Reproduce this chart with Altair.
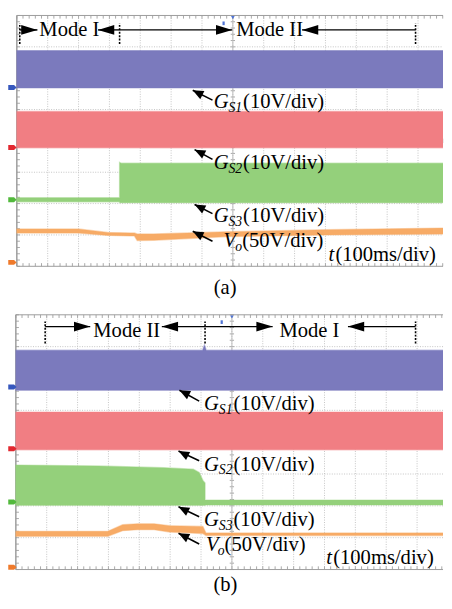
import altair as alt
import pandas as pd

FONT = "Liberation Serif"
MS_PER_DIV = 100          # t (100ms/div)
GATE_V_PER_DIV = 10.0     # G_S (10V/div)
VO_V_PER_DIV = 50.0       # V_o (50V/div)

channels = ["GS1", "GS2", "GS3", "Vo"]
band_colors = ["#7b7abd", "#f17e83", "#94d07b", "#f7ab66"]
tab_colors = ["#3657bd", "#e2272f", "#52b93c", "#ef7a2b"]
v_per_div = [GATE_V_PER_DIV, GATE_V_PER_DIV, GATE_V_PER_DIV, VO_V_PER_DIV]

GRID_X_DIV = [1, 2, 3, 4, 5, 6, 7, 8, 9, 10, 11, 12, 13]
GRID_Y_DIV = [1, 2, 3, 4, 5, 6, 7]

# ---------------- panel (a): Mode I -> Mode II ----------------
a_offsets = [5.70, 3.79, 2.125, 0.125]          # trace ground markers (div)
a_gs1_t = [0, 1381]
a_gs1_lo = [-0.1, -0.1]
a_gs1_hi = [11.8, 11.8]
a_gs2_t = [0, 1381]
a_gs2_lo = [-0.1, -0.1]
a_gs2_hi = [11.5, 11.5]
a_gs3_t = [0, 333, 333, 338, 1381]
a_gs3_lo = [-0.65, -0.65, -0.95, -0.95, -0.95]
a_gs3_hi = [0.65, 0.65, 11.9, 11.6, 11.6]
a_vo_t = [0, 200, 295, 368, 381, 390, 444, 686, 1003, 1381]
a_vo_lo = [46.8, 46.8, 43.0, 42.2, 42.2, 34.8, 35.2, 41.1, 43.8, 45.3]
a_vo_hi = [53.3, 53.3, 47.7, 46.9, 46.9, 45.3, 45.3, 48.9, 52.0, 54.7]

a_mode_names = ["Mode I", "Mode II"]
a_mode_text_t = [73, 711]
a_mode_text_v = 7.33
a_mode_dotted_t = [9.5, 333, 1292]
a_mode_arrow_v = 7.54
a_mode_seg_t0 = [9.5, 263, 333, 924]
a_mode_seg_t1 = [66.7, 333, 698, 1292]
a_mode_right_tips = [66.7, 698]
a_mode_left_tips = [263, 924]
a_lab_head_t = [570, 576, 576, 570]
a_lab_head_v = [5.615, 3.72, 1.97, 1.116]
a_lab_tail_t = [634, 634, 634, 634]
a_lab_tail_v = [5.30, 3.41, 1.68, 0.80]
a_gate_text_t = [638, 638, 638]
a_gate_text_v = [5.05, 3.115, 1.406]
a_vo_text = (670, 0.616)
a_time_text = (1010, 0.156)
a_caption = ("(a)", 675, -0.89)
a_trig = (670, 7.75)

# ---------------- panel (b): Mode II -> Mode I ----------------
b_offsets = [5.73, 3.79, 2.12, 0.07]
b_gs1_t = [0, 605, 611, 617, 1384]
b_gs1_lo = [-1.0, -1.0, -1.0, -1.0, -1.0]
b_gs1_hi = [11.6, 11.6, 13.2, 11.6, 11.6]
b_gs2_t = [0, 1384]
b_gs2_lo = [-0.27, -0.27]
b_gs2_hi = [11.55, 11.55]
b_gs3_t = [0, 267, 479, 575, 594, 606, 613, 613, 1384]
b_gs3_lo = [-1.0, -1.0, -1.0, -1.0, -1.0, -1.0, -1.0, -0.9, -0.9]
b_gs3_hi = [11.6, 11.3, 10.8, 10.3, 9.3, 6.8, 6.0, 0.6, 0.6]
b_vo_t = [0, 298, 346, 394, 448, 498, 606, 616, 1384]
b_vo_lo = [48.8, 48.8, 57.6, 59.1, 59.1, 55.4, 53.0, 49.9, 49.9]
b_vo_hi = [56.5, 56.5, 66.8, 68.3, 68.3, 65.3, 64.2, 53.9, 53.9]

b_mode_names = ["Mode II", "Mode I"]
b_mode_text_t = [251, 854]
b_mode_text_v = 7.29
b_mode_dotted_t = [95, 613, 1295]
b_mode_arrow_v = 7.63
b_mode_seg_t0 = [95, 473, 613, 1076]
b_mode_seg_t1 = [241, 613, 832, 1295]
b_mode_right_tips = [241, 832]
b_mode_left_tips = [473, 1076]
b_lab_head_t = [530, 527, 527, 527]
b_lab_head_v = [5.63, 3.72, 1.97, 1.14]
b_lab_tail_t = [594, 594, 594, 594]
b_lab_tail_v = [5.29, 3.415, 1.66, 0.80]
b_gate_text_t = [610, 610, 610]
b_gate_text_v = [5.015, 3.11, 1.354]
b_vo_text = (616, 0.585)
b_time_text = (1006, 0.185)
b_caption = ("(b)", 679, -0.68)
b_trig = (667, 7.77)

gate_subs = ["S1", "S2", "S3"]
gate_unit = "(10V/div)"
vo_unit = "(50V/div)"
time_unit = "(100ms/div)"

PANELS = [
    dict(t_min=-28.6, t_max=1381, v_min=-1.296875, v_max=8.015625, height=298, t_end=1381,
         offsets=a_offsets, dotted_v=(7.09, 7.75),
         traces=[(a_gs1_t, a_gs1_lo, a_gs1_hi), (a_gs2_t, a_gs2_lo, a_gs2_hi),
                 (a_gs3_t, a_gs3_lo, a_gs3_hi), (a_vo_t, a_vo_lo, a_vo_hi)],
         mode_names=a_mode_names, mode_text_t=a_mode_text_t, mode_text_v=a_mode_text_v,
         dotted_t=a_mode_dotted_t, arrow_v=a_mode_arrow_v, seg_t0=a_mode_seg_t0,
         seg_t1=a_mode_seg_t1, right_tips=a_mode_right_tips, left_tips=a_mode_left_tips,
         head_t=a_lab_head_t, head_v=a_lab_head_v, tail_t=a_lab_tail_t, tail_v=a_lab_tail_v,
         gate_t=a_gate_text_t, gate_v=a_gate_text_v, vo_text=a_vo_text, time_text=a_time_text,
         caption=a_caption, trig=a_trig, tab_t=-14.3),
    dict(t_min=-25.4, t_max=1384, v_min=-0.83077, v_max=8.24615, height=295, t_end=1384,
         offsets=b_offsets, dotted_v=(7.10, 7.79),
         traces=[(b_gs1_t, b_gs1_lo, b_gs1_hi), (b_gs2_t, b_gs2_lo, b_gs2_hi),
                 (b_gs3_t, b_gs3_lo, b_gs3_hi), (b_vo_t, b_vo_lo, b_vo_hi)],
         mode_names=b_mode_names, mode_text_t=b_mode_text_t, mode_text_v=b_mode_text_v,
         dotted_t=b_mode_dotted_t, arrow_v=b_mode_arrow_v, seg_t0=b_mode_seg_t0,
         seg_t1=b_mode_seg_t1, right_tips=b_mode_right_tips, left_tips=b_mode_left_tips,
         head_t=b_lab_head_t, head_v=b_lab_head_v, tail_t=b_lab_tail_t, tail_v=b_lab_tail_v,
         gate_t=b_gate_text_t, gate_v=b_gate_text_v, vo_text=b_vo_text, time_text=b_time_text,
         caption=b_caption, trig=b_trig, tab_t=-11.1),
]

RIGHT_HEAD = "M0,0L-1,-0.3L-1,0.3Z"
LEFT_HEAD = "M0,0L1,-0.3L1,0.3Z"
SMALL_HEAD = "M0,0L-1,-0.42L-1,0.42Z"
TAB = "M-1,-0.6L0.4,-0.6L1,0L0.4,0.6L-1,0.6Z"


def build_panel(P):
    xs = alt.Scale(domain=[P["t_min"], P["t_max"]], nice=False, zero=False)
    ys = alt.Scale(domain=[P["v_min"], P["v_max"]], nice=False, zero=False)

    def X(f):
        return alt.X(f, type="quantitative", scale=xs, axis=None)

    def Y(f):
        return alt.Y(f, type="quantitative", scale=ys, axis=None)

    t_end = P["t_end"]
    layers = []

    # graticule
    gv = pd.DataFrame({"t": [d * MS_PER_DIV for d in GRID_X_DIV], "v0": 0.0, "v1": 8.0})
    layers.append(alt.Chart(gv).mark_rule(color="#c4c4c4", strokeDash=[1, 1.5], strokeWidth=1)
                  .encode(x=X("t"), y=Y("v0"), y2=alt.Y2("v1")))
    gh = pd.DataFrame({"v": GRID_Y_DIV, "t0": 0.0, "t1": float(t_end)})
    layers.append(alt.Chart(gh).mark_rule(color="#c4c4c4", strokeDash=[1, 1.5], strokeWidth=1)
                  .encode(x=X("t0"), x2=alt.X2("t1"), y=Y("v")))
    # minor ticks on borders and centre lines
    rows = []
    k = 0
    while k * 20 <= t_end:
        tt = k * 20
        rows.append((tt, 0.0, 0.1))
        rows.append((tt, 7.9, 8.0))
        rows.append((tt, 3.93, 4.07))
        k += 1
    mt = pd.DataFrame(rows, columns=["t", "v0", "v1"])
    layers.append(alt.Chart(mt).mark_rule(color="#a8a8a8", strokeWidth=1)
                  .encode(x=X("t"), y=Y("v0"), y2=alt.Y2("v1")))
    rows = []
    for j in range(0, 41):
        vv = j * 0.2
        rows.append((0.0, 10.0, vv))
        rows.append((693.0, 707.0, vv))
    mh = pd.DataFrame(rows, columns=["t0", "t1", "v"])
    layers.append(alt.Chart(mh).mark_rule(color="#a8a8a8", strokeWidth=1)
                  .encode(x=X("t0"), x2=alt.X2("t1"), y=Y("v")))
    # centre line
    cl = pd.DataFrame({"t": [700.0], "v0": [0.0], "v1": [8.0]})
    layers.append(alt.Chart(cl).mark_rule(color="#bcbcbc", strokeWidth=1)
                  .encode(x=X("t"), y=Y("v0"), y2=alt.Y2("v1")))
    # frame
    fr_v = pd.DataFrame({"t": [0.0], "v0": [0.0], "v1": [8.0]})
    layers.append(alt.Chart(fr_v).mark_rule(color="#9c9c9c", strokeWidth=1.5)
                  .encode(x=X("t"), y=Y("v0"), y2=alt.Y2("v1")))
    fr_h = pd.DataFrame({"v": [0.0, 8.0], "t0": 0.0, "t1": float(t_end)})
    layers.append(alt.Chart(fr_h).mark_rule(color="#9c9c9c", strokeWidth=1)
                  .encode(x=X("t0"), x2=alt.X2("t1"), y=Y("v")))

    # traces (envelopes), one area layer per channel, with a soft fringe
    for ch, col, off, vpd, (ts, lo, hi) in zip(channels, band_colors, P["offsets"], v_per_div, P["traces"]):
        df = pd.DataFrame({
            "t": [float(x) for x in ts],
            "lo": [off + l / vpd for l in lo],
            "hi": [off + h / vpd for h in hi],
        })
        layers.append(alt.Chart(df).mark_area(color=col, opacity=1, interpolate="linear", clip=True,
                                              stroke=col, strokeWidth=1.4, strokeOpacity=0.45)
                      .encode(x=X("t"), y=Y("hi"), y2=alt.Y2("lo")))

    # channel ground markers
    for col, off in zip(tab_colors, P["offsets"]):
        tb = pd.DataFrame({"t": [P["tab_t"]], "v": [off]})
        layers.append(alt.Chart(tb).mark_point(shape=TAB, size=72, filled=True, color=col,
                                               opacity=1, strokeWidth=0)
                      .encode(x=X("t"), y=Y("v")))
    # trigger markers
    tg = pd.DataFrame({"t": [P["trig"][0]], "v": [P["trig"][1]]})
    layers.append(alt.Chart(tg).mark_point(shape="M-0.6,-1L0.6,-1L0.6,1L-0.6,1Z", size=14, filled=True,
                                           color="#4f74d6", opacity=1, strokeWidth=0)
                  .encode(x=X("t"), y=Y("v")))
    tg2 = pd.DataFrame({"t": [700.0], "v": [7.93]})
    layers.append(alt.Chart(tg2).mark_point(shape="triangle-down", size=14, filled=True,
                                            color="#4f74d6", opacity=1, strokeWidth=0)
                  .encode(x=X("t"), y=Y("v")))

    # mode boundaries and arrows
    dv0, dv1 = P["dotted_v"]
    dl = pd.DataFrame({"t": P["dotted_t"], "v0": dv0, "v1": dv1})
    layers.append(alt.Chart(dl).mark_rule(color="black", strokeDash=[2, 1.5], strokeWidth=1.6)
                  .encode(x=X("t"), y=Y("v0"), y2=alt.Y2("v1")))
    sg = pd.DataFrame({"t0": P["seg_t0"], "t1": P["seg_t1"], "v": P["arrow_v"]})
    layers.append(alt.Chart(sg).mark_rule(color="black", strokeWidth=1.4)
                  .encode(x=X("t0"), x2=alt.X2("t1"), y=Y("v")))
    rt = pd.DataFrame({"t": P["right_tips"], "v": P["arrow_v"]})
    layers.append(alt.Chart(rt).mark_point(shape=RIGHT_HEAD, size=1100, filled=True, color="black",
                                           opacity=1, strokeWidth=0)
                  .encode(x=X("t"), y=Y("v")))
    lt = pd.DataFrame({"t": P["left_tips"], "v": P["arrow_v"]})
    layers.append(alt.Chart(lt).mark_point(shape=LEFT_HEAD, size=1100, filled=True, color="black",
                                           opacity=1, strokeWidth=0)
                  .encode(x=X("t"), y=Y("v")))

    # label pointers
    la = pd.DataFrame({"t0": P["head_t"], "v0": P["head_v"], "t1": P["tail_t"], "v1": P["tail_v"]})
    layers.append(alt.Chart(la).mark_rule(color="black", strokeWidth=1.6)
                  .encode(x=X("t0"), y=Y("v0"), x2=alt.X2("t1"), y2=alt.Y2("v1")))
    layers.append(alt.Chart(la).mark_point(shape=SMALL_HEAD, size=484, angle=207, filled=True,
                                           color="black", opacity=1, strokeWidth=0)
                  .encode(x=X("t0"), y=Y("v0")))

    # texts
    def txt(df, **kw):
        base = dict(font=FONT, fontSize=21, baseline="alphabetic", color="black", align="left")
        base.update(kw)
        return alt.Chart(df).mark_text(**base).encode(x=X("t"), y=Y("v"), text="s:N")

    md = pd.DataFrame({"t": P["mode_text_t"], "v": P["mode_text_v"], "s": P["mode_names"]})
    layers.append(txt(md))
    g_main = pd.DataFrame({"t": P["gate_t"], "v": P["gate_v"], "s": ["G", "G", "G"]})
    layers.append(txt(g_main, fontStyle="italic"))
    g_sub = pd.DataFrame({"t": P["gate_t"], "v": P["gate_v"], "s": gate_subs})
    layers.append(txt(g_sub, fontStyle="italic", fontSize=14, dx=15, dy=4))
    g_unit = pd.DataFrame({"t": P["gate_t"], "v": P["gate_v"], "s": [gate_unit] * 3})
    layers.append(txt(g_unit, dx=30))
    vt, vv = P["vo_text"]
    layers.append(txt(pd.DataFrame({"t": [vt], "v": [vv], "s": ["V"]}), fontStyle="italic"))
    layers.append(txt(pd.DataFrame({"t": [vt], "v": [vv], "s": ["o"]}), fontStyle="italic",
                      fontSize=14, dx=12, dy=4))
    layers.append(txt(pd.DataFrame({"t": [vt], "v": [vv], "s": [vo_unit]}), dx=19))
    tt_, tv_ = P["time_text"]
    layers.append(txt(pd.DataFrame({"t": [tt_], "v": [tv_], "s": ["t"]}), fontStyle="italic"))
    layers.append(txt(pd.DataFrame({"t": [tt_], "v": [tv_], "s": [time_unit]}), dx=7))
    cs, ct, cv = P["caption"]
    layers.append(txt(pd.DataFrame({"t": [ct], "v": [cv], "s": [cs]}), align="center"))

    return alt.layer(*layers).properties(width=444, height=P["height"])


chart = alt.vconcat(*[build_panel(P) for P in PANELS], spacing=0, bounds="flush").properties(
    padding=0, background="white"
).configure_view(stroke=None)

chart.save("out.html", embed_options={"renderer": "svg", "actions": False})
